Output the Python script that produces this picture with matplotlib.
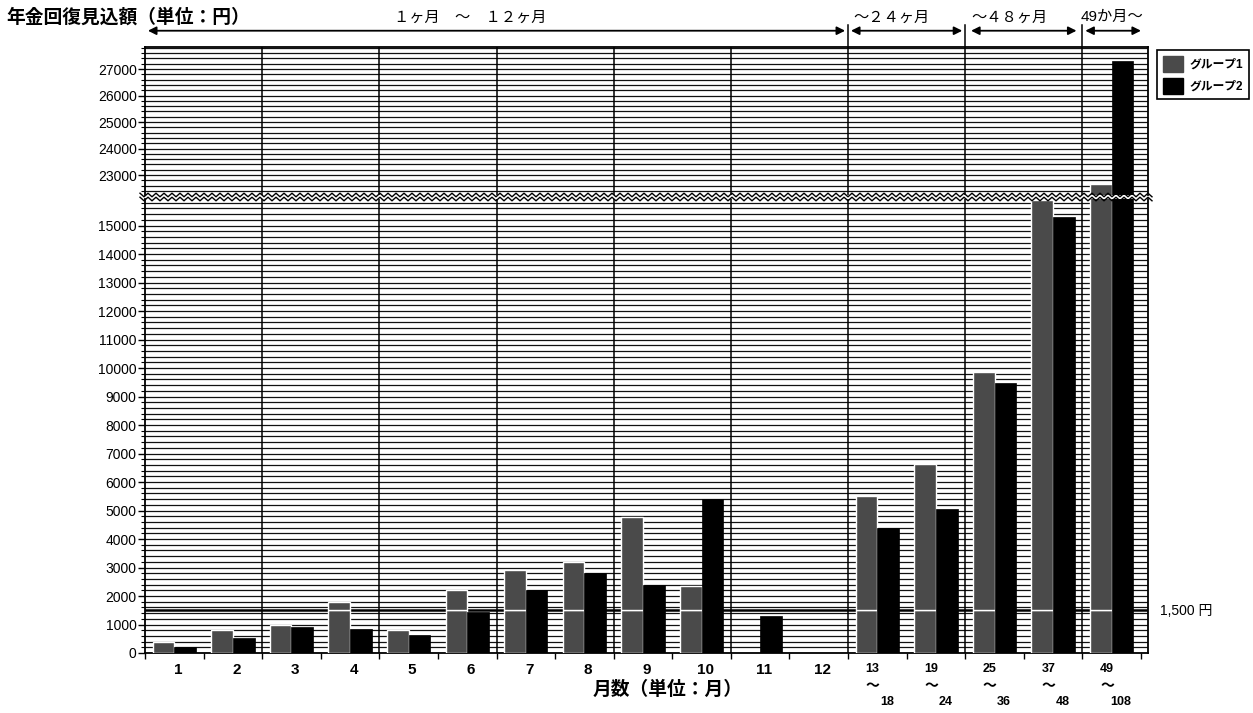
import matplotlib.pyplot as plt
import numpy as np
from matplotlib.lines import Line2D
from matplotlib.patches import Patch
from matplotlib.ticker import MultipleLocator
import matplotlib.transforms as mtransforms

plt.rcParams['font.family'] = ['Liberation Sans', 'Noto Sans CJK JP', 'DejaVu Sans']

# data
x_top = ['1', '2', '3', '4', '5', '6', '7', '8', '9', '10', '11', '12',
         '13', '19', '25', '37', '49']
x_bot = ['18', '24', '36', '48', '108']
group1 = [400, 800, 1000, 1800, 800, 2200, 2900, 3200, 4780, 2350, 0, 0,
          5500, 6630, 9870, 15900, 22650]
group2 = [220, 540, 920, 840, 620, 1430, 2200, 2800, 2390, 5400, 1300, 0,
          4380, 5050, 9470, 15300, 27300]
line_val = 1500

W, H = 1253, 713
fig = plt.figure(figsize=(W / 100, H / 100), dpi=100)


def fx(px): return px / W
def fy(py): return 1 - py / H


L, R = fx(145), fx(1148)
ax_lo = fig.add_axes([L, fy(653), R - L, (653 - 199) / H])
ax_hi = fig.add_axes([L, fy(195), R - L, (195 - 47) / H])

idx = np.arange(len(group1))
g1 = np.array(group1, dtype=float)
g2 = np.array(group2, dtype=float)
bw = 0.37
c1 = '#4a4a4a'

low1 = np.minimum(g1, line_val)
up1 = np.maximum(g1 - line_val, 0)
m_low = low1 > 0
m_up = up1 > 0
m2 = g2 > 0

for ax in (ax_lo, ax_hi):
    ax.set_xlim(0, 17.12)
    # bars, group 1 split at the 1,500 line like the original
    ax.bar(idx[m_low] + 0.13, low1[m_low], bw, align='edge',
           color=c1, edgecolor='white', linewidth=1.0, zorder=3)
    ax.bar(idx[m_up] + 0.13, up1[m_up], bw, bottom=line_val,
           align='edge', color=c1, edgecolor='white', linewidth=1.0, zorder=3)
    ax.bar(idx[m2] + 0.50, g2[m2], bw, align='edge', color='black',
           edgecolor='black', linewidth=0.5, zorder=3)
    ax.yaxis.set_major_locator(MultipleLocator(1000))
    ax.yaxis.set_minor_locator(MultipleLocator(200))
    ax.grid(True, axis='y', which='both', color='#111111', lw=0.9, zorder=1)
    for k in range(2, 17, 2):
        ax.axvline(k, color='black', lw=1.1, zorder=2)
    for s in ax.spines.values():
        s.set_linewidth(1.3)
    ax.tick_params(axis='y', which='major', length=5, width=1, labelsize=10, pad=1)
    ax.tick_params(axis='y', which='minor', length=3, width=0.8)
    ax.set_xticks(np.arange(0, 18))

ax_lo.set_ylim(0, 15930)
ax_hi.set_ylim(22250, 27830)
ax_hi.set_yticks([23000, 24000, 25000, 26000, 27000])
ax_hi.tick_params(axis='x', length=0, labelbottom=False)
ax_lo.tick_params(axis='x', length=4, width=1, labelbottom=False)
ax_hi.spines['bottom'].set_visible(False)
ax_lo.spines['top'].set_visible(False)

ax_lo.axhline(line_val, color='black', lw=1.8, zorder=2)

# x labels
tr = mtransforms.blended_transform_factory(ax_lo.transData, ax_lo.transAxes)
for i, t in enumerate(x_top):
    if i < 12:
        ax_lo.text(i + 0.56, -0.022, t, transform=tr, ha='center', va='top',
                   fontsize=11, fontweight='bold')
    else:
        ax_lo.text(i + 0.42, -0.022, t, transform=tr, ha='center', va='top',
                   fontsize=9, fontweight='bold')
        ax_lo.text(i + 0.42, -0.058, '〜', transform=tr, ha='center', va='top',
                   fontsize=10, fontweight='bold')
        ax_lo.text(i + 0.66, -0.095, x_bot[i - 12], transform=tr, ha='center',
                   va='top', fontsize=9, fontweight='bold')

# period arrows over the top
tt = mtransforms.blended_transform_factory(ax_hi.transData, ax_hi.transAxes)
for k in (12, 14, 16):
    ax_hi.plot([k, k], [1, 1.15], transform=tt, color='black', lw=1.1,
               clip_on=False)
spans = [(0.05, 11.95, 5.55, '１ヶ月　〜　１２ヶ月'),
         (12.05, 13.95, 12.75, '〜２４ヶ月'),
         (14.1, 15.9, 14.75, '〜４８ヶ月'),
         (16.05, 17.0, 16.5, '49か月〜')]
for a, b, c, t in spans:
    ax_hi.annotate('', xy=(a, 1.11), xytext=(b, 1.11), xycoords=tt,
                   textcoords=tt,
                   arrowprops=dict(arrowstyle='<|-|>', color='black', lw=1.3,
                                   mutation_scale=12, shrinkA=0, shrinkB=0))
    ax_hi.text(c, 1.2, t, transform=tt, ha='center', va='center', fontsize=11)

# broken-axis zigzag
zx = np.arange(140, 1153, 4)
for base in (195, 199):
    zy = base + np.where(np.arange(len(zx)) % 2 == 0, -1.8, 1.8)
    fig.add_artist(Line2D(fx(zx), fy(zy), color='black', lw=1.0))

fig.text(fx(6), fy(17), '年金回復見込額（単位：円）', ha='left', va='center',
         fontsize=13.5, fontweight='bold')
fig.text(fx(668), fy(690), '月数（単位：月）', ha='center', va='center',
         fontsize=13.5, fontweight='bold')
fig.text(fx(1160), fy(611), '1,500 円', ha='left', va='center', fontsize=10)

handles = [Patch(facecolor=c1, edgecolor=c1, label='グループ1'),
           Patch(facecolor='black', edgecolor='black', label='グループ2')]
leg = fig.legend(handles=handles, loc='upper left',
                 bbox_to_anchor=(fx(1151), fy(44)),
                 prop={'weight': 'bold', 'size': 8.5}, fancybox=False,
                 edgecolor='black', framealpha=1, handlelength=1.7,
                 handleheight=1.7, borderpad=0.5, labelspacing=0.5,
                 handletextpad=0.6)
leg.get_frame().set_linewidth(1.2)

plt.savefig('out.png', dpi=100)
